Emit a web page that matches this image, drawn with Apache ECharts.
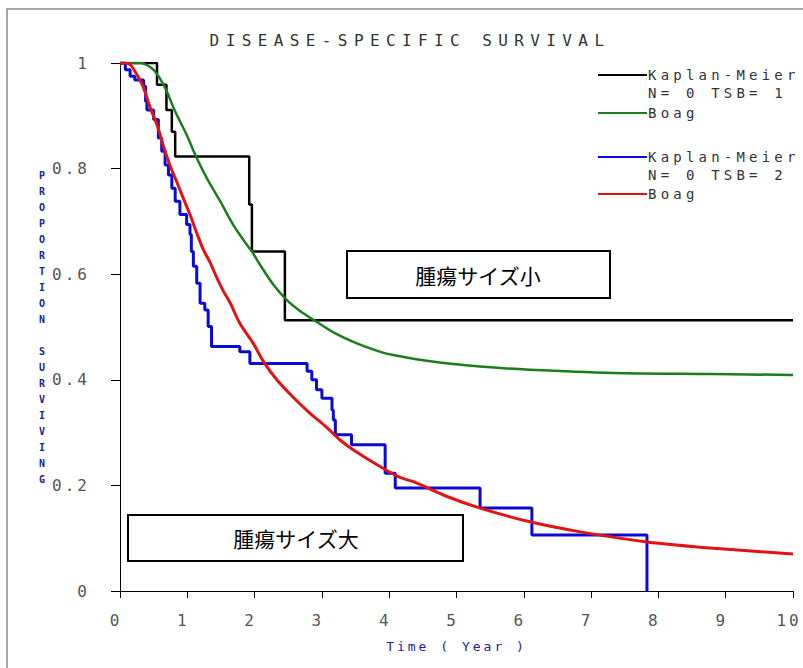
<!DOCTYPE html>
<html>
<head>
<meta charset="utf-8">
<script src="https://cdn.jsdelivr.net/npm/echarts@6/dist/echarts.min.js"></script>
<style>
  html, body { margin: 0; padding: 0; background: #fff; }
  #main { width: 803px; height: 668px; }
  /* the original uses wide fixed-pitch lettering */
  #main text[style*="lsTitle"] { letter-spacing: 6.4px; }
  #main text[style*="lsLegend"] { letter-spacing: 4.2px; }
  #main text[style*="lsTick"] { letter-spacing: 3px; }
  #main text[style*="lsXname"] { letter-spacing: 3px; }
</style>
</head>
<body>
<div id="main"></div>
<script>
  var titleText = 'DISEASE-SPECIFIC SURVIVAL';
  var xName = 'Time ( Year )';
  var yName = 'PROPORTION SURVIVING';
  var xTickLabels = ['0', '1', '2', '3', '4', '5', '6', '7', '8', '9', '10'];
  var yTickLabels = ['0', '0.2', '0.4', '0.6', '0.8', '1'];
  var boxSmall = '腫瘍サイズ小';
  var boxLarge = '腫瘍サイズ大';
  var legendLines = [
    ['Kaplan-Meier', 'N= 0 TSB= 1'], ['Boag'],
    ['Kaplan-Meier', 'N= 0 TSB= 2'], ['Boag']
  ];

  // Kaplan-Meier, TSB=1 (small tumour) : [year, proportion]
  var kmSmall = [
    [0, 1], [0.55, 0.959], [0.69, 0.911], [0.77, 0.870], [0.82, 0.823],
    [1.92, 0.732], [1.96, 0.643], [2.45, 0.513], [10, 0.513]
  ];
  // Boag fit, TSB=1
  var boagSmall = [
    [0, 1], [0.3, 1], [0.5, 0.987], [0.67, 0.953], [0.82, 0.908], [0.99, 0.864],
    [1.14, 0.820], [1.29, 0.782], [1.49, 0.738], [1.68, 0.694], [1.85, 0.662],
    [1.96, 0.643], [2.08, 0.618], [2.28, 0.580], [2.48, 0.551], [2.68, 0.530],
    [2.92, 0.510], [3.17, 0.490], [3.52, 0.469], [3.87, 0.453], [4.06, 0.447],
    [4.61, 0.435], [5.35, 0.425], [6.09, 0.419], [7.33, 0.413], [8.82, 0.411],
    [10, 0.409]
  ];
  // Kaplan-Meier, TSB=2 (large tumour)
  var kmLarge = [
    [0, 1], [0.08, 0.987], [0.15, 0.975], [0.22, 0.968], [0.35, 0.956],
    [0.38, 0.927], [0.40, 0.911], [0.50, 0.893], [0.57, 0.858], [0.62, 0.833],
    [0.67, 0.807], [0.72, 0.788], [0.77, 0.763], [0.82, 0.738], [0.89, 0.713],
    [0.99, 0.694], [1.04, 0.675], [1.06, 0.643], [1.09, 0.615], [1.14, 0.583],
    [1.19, 0.545], [1.26, 0.532], [1.31, 0.501], [1.36, 0.463], [1.78, 0.453],
    [1.93, 0.431], [2.78, 0.416], [2.85, 0.400], [2.92, 0.381], [3.00, 0.365],
    [3.15, 0.343], [3.17, 0.324], [3.20, 0.296], [3.44, 0.277], [3.94, 0.223],
    [4.09, 0.195], [5.35, 0.157], [6.12, 0.106], [7.83, 0]
  ];
  // Boag fit, TSB=2
  var boagLarge = [
    [0, 1], [0.05, 1], [0.15, 0.997], [0.25, 0.978], [0.35, 0.953], [0.45, 0.915],
    [0.55, 0.883], [0.64, 0.845], [0.74, 0.807], [0.84, 0.776], [0.94, 0.744],
    [1.04, 0.713], [1.14, 0.678], [1.24, 0.646], [1.34, 0.622], [1.44, 0.593],
    [1.54, 0.567], [1.64, 0.545], [1.78, 0.507], [1.98, 0.469], [2.13, 0.435],
    [2.33, 0.400], [2.58, 0.366], [2.82, 0.337], [3.07, 0.310], [3.27, 0.286],
    [3.47, 0.267], [3.82, 0.239], [4.16, 0.215], [4.36, 0.207], [4.86, 0.179],
    [5.35, 0.157], [6.09, 0.131], [6.84, 0.112], [7.83, 0.093], [8.82, 0.081],
    [10, 0.070]
  ];

  var colors = ['#000000', '#1b7d1b', '#0a0ad8', '#e01414'];
  var monoTitle = "'DejaVu Sans Mono', lsTitle";
  var monoLegend = "'DejaVu Sans Mono', lsLegend";
  var monoTick = "'DejaVu Sans Mono', lsTick";
  var monoXname = "'DejaVu Sans Mono', lsXname";

  var myChart = echarts.init(document.getElementById('main'), null, {renderer: 'svg'});

  var legendY = [75, 113, 157, 194];
  var graphics = [
    {type: 'rect', z: -10, silent: true,
      shape: {x: 7, y: 9, width: 830, height: 720},
      style: {fill: 'none', stroke: '#8a8a8a', lineWidth: 1.5}},
    {type: 'text', x: 410, y: 40, z: 100,
      style: {text: titleText, fill: '#333', font: '16px ' + monoTitle,
        textAlign: 'center', textVerticalAlign: 'middle'}},
    {type: 'rect', z: 100, shape: {x: 347, y: 251, width: 263, height: 47},
      style: {fill: '#fff', stroke: '#000', lineWidth: 2}},
    {type: 'text', x: 478, y: 275, z: 101,
      style: {text: boxSmall, fill: '#000', font: "21px 'Noto Sans CJK JP'",
        textAlign: 'center', textVerticalAlign: 'middle'}},
    {type: 'rect', z: 100, shape: {x: 128, y: 515, width: 335, height: 46},
      style: {fill: '#fff', stroke: '#000', lineWidth: 2}},
    {type: 'text', x: 296, y: 538, z: 101,
      style: {text: boxLarge, fill: '#000', font: "21px 'Noto Sans CJK JP'",
        textAlign: 'center', textVerticalAlign: 'middle'}}
  ];
  legendLines.forEach(function (lines, i) {
    graphics.push({type: 'line', z: 100,
      shape: {x1: 598, y1: legendY[i], x2: 647, y2: legendY[i]},
      style: {stroke: colors[i], lineWidth: 2}});
    lines.forEach(function (txt, j) {
      graphics.push({type: 'text', x: 648, y: legendY[i] + j * 18, z: 100,
        style: {text: txt, fill: '#333', font: '14px ' + monoLegend,
          textAlign: 'left', textVerticalAlign: 'middle'}});
    });
  });

  function stepSeries(name, data, color, width) {
    return {name: name, type: 'line', data: data, step: 'end', showSymbol: false,
      symbol: 'none', lineStyle: {color: color, width: width}};
  }
  function curveSeries(name, data, color, width) {
    return {name: name, type: 'line', data: data, smooth: 0.3, showSymbol: false,
      symbol: 'none', lineStyle: {color: color, width: width}};
  }

  var option = {
    animation: false,
    backgroundColor: '#fff',
    grid: {left: 120, right: 10, top: 63, bottom: 77, containLabel: false, outerBoundsMode: 'none'},
    xAxis: {
      type: 'value', min: 0, max: 10, interval: 1,
      name: xName, nameLocation: 'middle', nameGap: 55,
      nameTextStyle: {color: '#23239a', fontSize: 13, fontFamily: monoXname, verticalAlign: 'middle'},
      axisLine: {lineStyle: {color: '#000', width: 1}},
      axisTick: {length: 7, lineStyle: {color: '#000'}},
      splitLine: {show: false},
      axisLabel: {margin: 21, color: '#555', fontSize: 16, fontFamily: monoTick,
        padding: [0, 8, 0, 0],
        formatter: function (v) { return xTickLabels[Math.round(v)]; }}
    },
    yAxis: {
      type: 'value', min: 0, max: 1, interval: 0.2,
      name: yName.split('').join('\n'), nameLocation: 'middle', nameGap: 78, nameRotate: 0,
      nameTextStyle: {color: '#23238f', fontSize: 10, fontWeight: 'bold', fontFamily: 'DejaVu Sans Mono',
        lineHeight: 16, align: 'center', verticalAlign: 'middle'},
      axisLine: {show: true, lineStyle: {color: '#000', width: 1}},
      axisTick: {show: true, length: 9, lineStyle: {color: '#000'}},
      splitLine: {show: false},
      axisLabel: {margin: 30, color: '#555', fontSize: 16, fontFamily: monoTick,
        formatter: function (v) { return yTickLabels[Math.round(v * 5)]; }}
    },
    graphic: graphics,
    series: [
      stepSeries('Kaplan-Meier TSB=1', kmSmall, colors[0], 2.5),
      curveSeries('Boag TSB=1', boagSmall, colors[1], 2.5),
      stepSeries('Kaplan-Meier TSB=2', kmLarge, colors[2], 3),
      curveSeries('Boag TSB=2', boagLarge, colors[3], 3)
    ]
  };
  myChart.setOption(option);
</script>
</body>
</html>
